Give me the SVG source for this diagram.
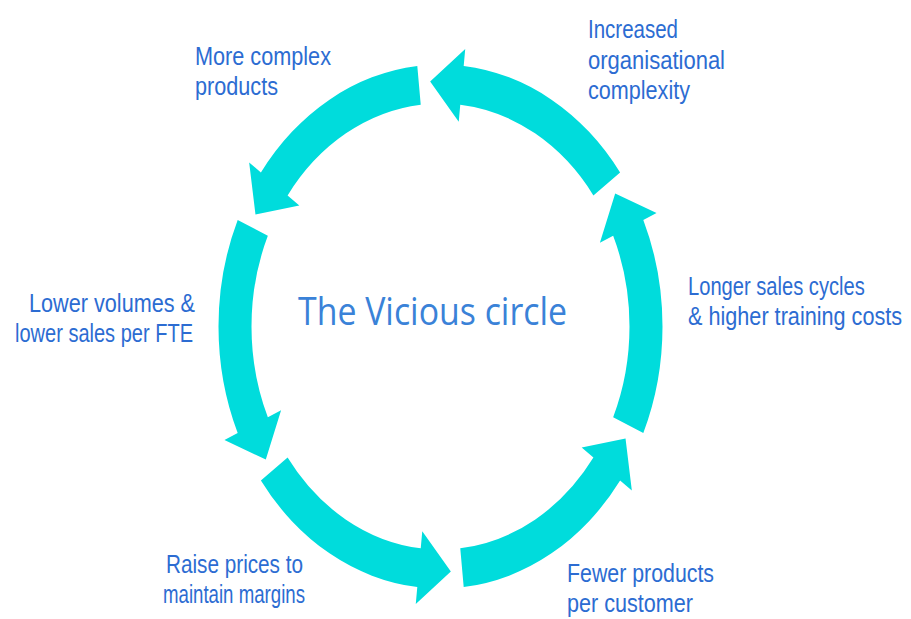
<svg xmlns="http://www.w3.org/2000/svg" xmlns:xlink="http://www.w3.org/1999/xlink" width="911" height="619" viewBox="0 0 911 619">
  <style>
    .lbl { font-family: "Liberation Sans", Arial, sans-serif; font-size: 26px; fill: #2c6cd2; }
    .title { font-family: "Open Sans", "Noto Sans", "Liberation Sans", sans-serif; font-size: 38px; fill: #3a82d8; }
    .arc { fill: #00dcdc; }
  </style>
  <defs>
    <!-- one curved arrow segment: tail at 0 deg, tip near -57 deg, on a ring of radius 205.5 -->
    <path id="ringArrow" class="arc" d="M222,0 A222,222 0 0 0 148.55,-164.98 L158.25,-175.75 L113.7,-174.1 L116.76,-129.68 L126.47,-140.45 A189,189 0 0 1 189,0 Z"/>
  </defs>
  <rect width="911" height="619" fill="#ffffff"/>

  <g id="connectors" transform="translate(440.5 326.5) scale(1 1.18)">
    <use xlink:href="#ringArrow" href="#ringArrow" transform="rotate(84)"/>
    <use xlink:href="#ringArrow" href="#ringArrow" transform="rotate(24)"/>
    <use xlink:href="#ringArrow" href="#ringArrow" transform="rotate(-36)"/>
    <use xlink:href="#ringArrow" href="#ringArrow" transform="rotate(-96)"/>
    <use xlink:href="#ringArrow" href="#ringArrow" transform="rotate(-156)"/>
    <use xlink:href="#ringArrow" href="#ringArrow" transform="rotate(144)"/>
  </g>

  <g id="center">
    <text class="title" x="298" y="325" textLength="269" lengthAdjust="spacingAndGlyphs">The Vicious circle</text>
  </g>
  <g id="org-complexity">
    <text class="lbl" x="588" y="38" textLength="90" lengthAdjust="spacingAndGlyphs">Increased</text>
    <text class="lbl" x="588" y="69" textLength="137" lengthAdjust="spacingAndGlyphs">organisational</text>
    <text class="lbl" x="588" y="99" textLength="102" lengthAdjust="spacingAndGlyphs">complexity</text>
  </g>
  <g id="complex-products">
    <text class="lbl" x="195" y="65" textLength="136" lengthAdjust="spacingAndGlyphs">More complex</text>
    <text class="lbl" x="195" y="95" textLength="83" lengthAdjust="spacingAndGlyphs">products</text>
  </g>
  <g id="lower-volumes">
    <text class="lbl" x="29" y="312" textLength="166" lengthAdjust="spacingAndGlyphs">Lower volumes &amp;</text>
    <text class="lbl" x="15" y="342" textLength="178" lengthAdjust="spacingAndGlyphs">lower sales per FTE</text>
  </g>
  <g id="raise-prices">
    <text class="lbl" x="166" y="573" textLength="137" lengthAdjust="spacingAndGlyphs">Raise prices to</text>
    <text class="lbl" x="163" y="603" textLength="142" lengthAdjust="spacingAndGlyphs">maintain margins</text>
  </g>
  <g id="fewer-products">
    <text class="lbl" x="567" y="582" textLength="147" lengthAdjust="spacingAndGlyphs">Fewer products</text>
    <text class="lbl" x="567" y="612" textLength="126" lengthAdjust="spacingAndGlyphs">per customer</text>
  </g>
  <!-- narrower set: drawn at 83% width so the long line stays inside the page -->
  <g id="longer-cycles" transform="matrix(0.83 0 0 1 688 0)">
    <text class="lbl" x="0" y="295" textLength="213" lengthAdjust="spacingAndGlyphs">Longer sales cycles</text>
    <text class="lbl" x="0" y="325" textLength="258" lengthAdjust="spacingAndGlyphs">&amp; higher training costs</text>
  </g>
</svg>
